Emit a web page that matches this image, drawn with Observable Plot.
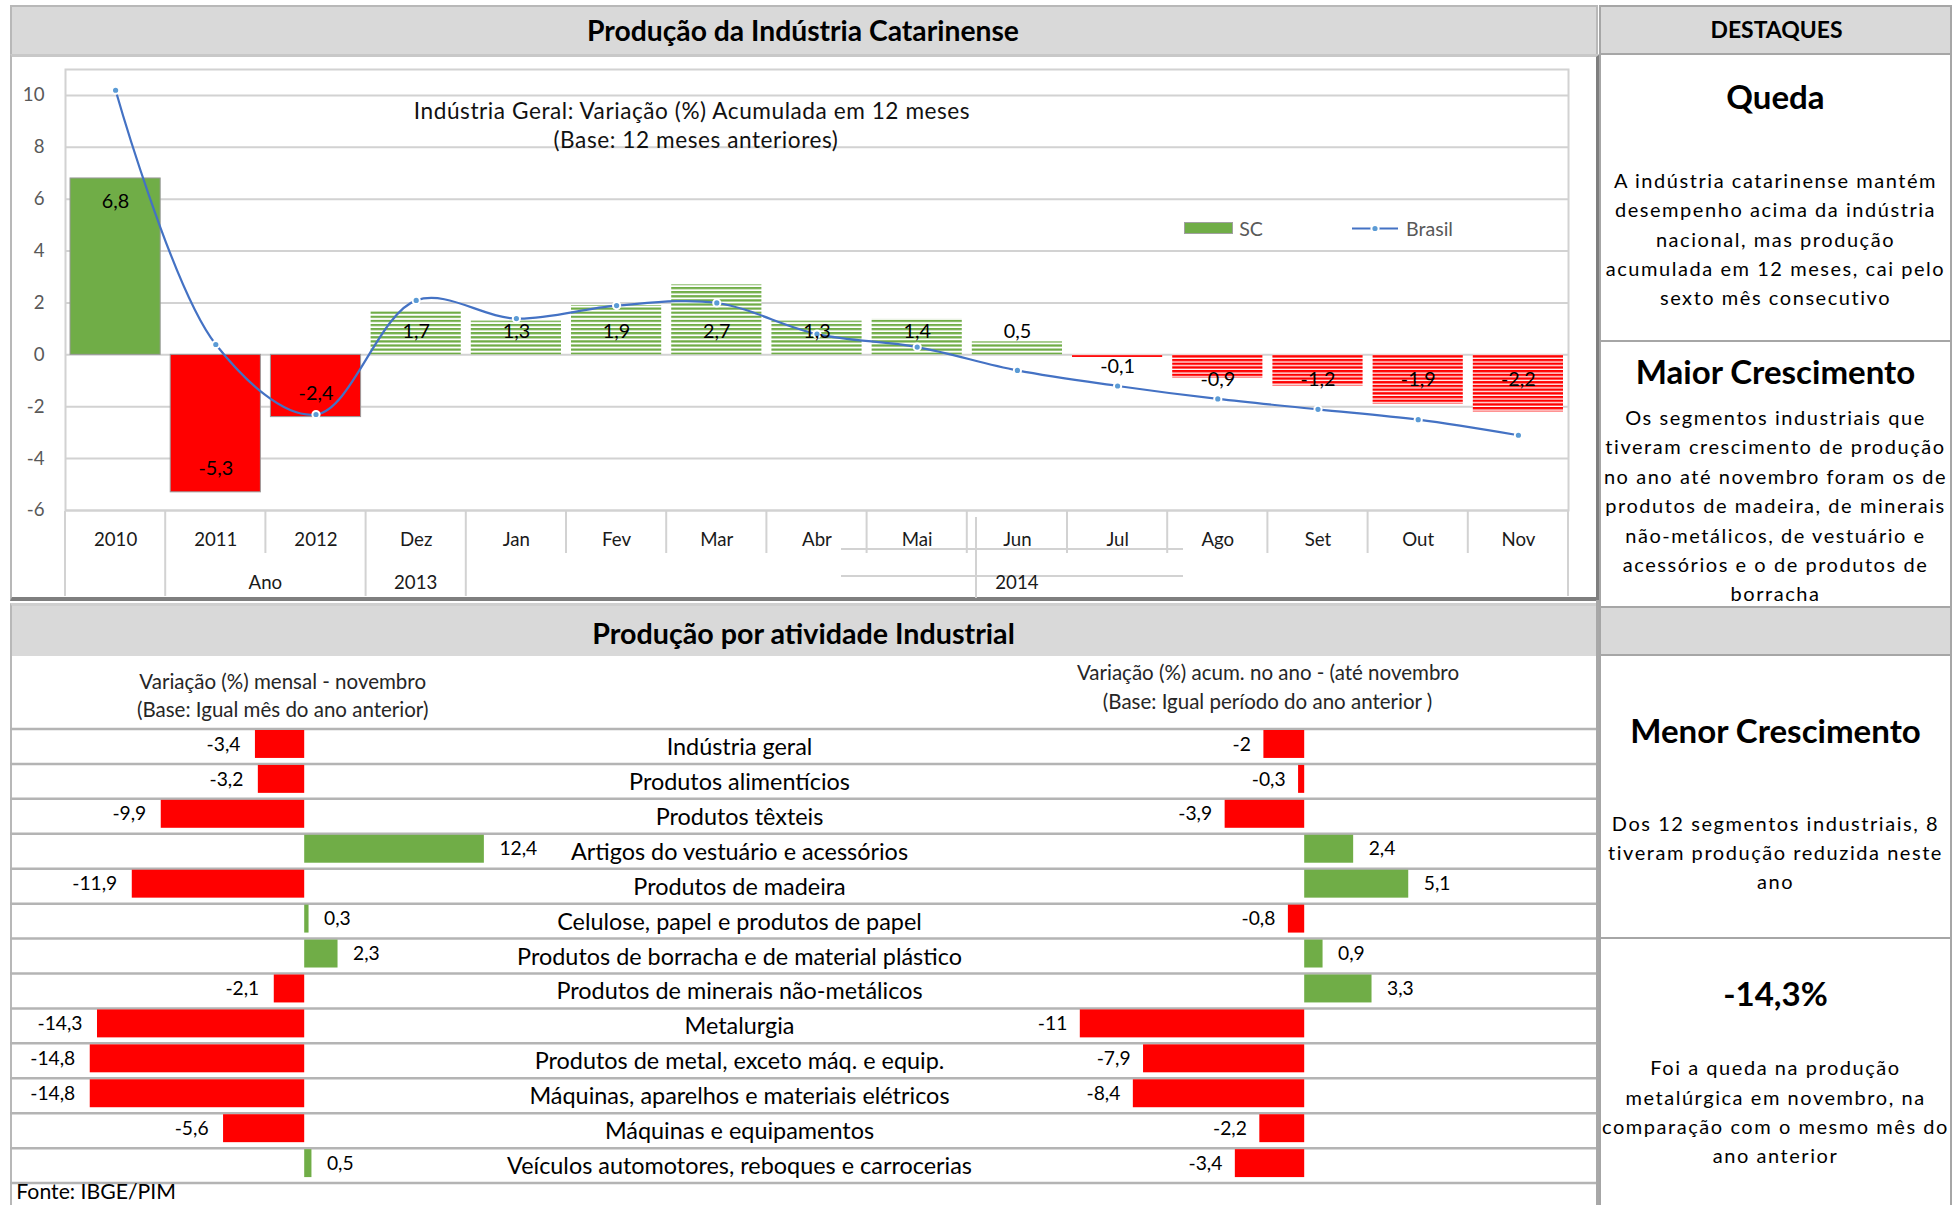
<!DOCTYPE html>
<html lang="pt-BR">
<head>
<meta charset="utf-8">
<script src="https://cdn.jsdelivr.net/npm/d3@7"></script>
<script src="https://cdn.jsdelivr.net/npm/@observablehq/plot@0.6"></script>
<style>
html,body{margin:0;padding:0;background:#fff;}
#page{position:relative;width:1955px;height:1205px;overflow:hidden;font-family:Lato,"Open Sans",sans-serif;color:#000;}
.box{position:absolute;box-sizing:border-box;}
.t{position:absolute;white-space:nowrap;transform:translate(-50%,-50%);line-height:1.2;}
#page svg{position:absolute;background:transparent !important;max-width:none !important;}
</style>
</head>
<body>
<div id="page">
  <!-- top-left panel -->
  <div class="box" style="left:10px;top:5px;width:1588px;height:51px;background:#d9d9d9;border:2px solid #b8b8b8;border-bottom:none;"></div>
  <div class="box" style="left:10px;top:54px;width:1590px;height:547px;border-left:2px solid #b8b8b8;border-top:3px solid #c8c8c8;border-right:4px solid #7f7f7f;border-bottom:4px solid #7f7f7f;"></div>
  <!-- bottom-left panel -->
  <div class="box" style="left:10px;top:603px;width:1588px;height:53px;background:#d9d9d9;border-left:2px solid #b8b8b8;border-top:3px solid #cfcfcf;"></div>
  <div class="box" style="left:10px;top:656px;width:2px;height:549px;background:#b8b8b8;"></div>
  <div class="box" style="left:1596px;top:600px;width:3px;height:605px;background:#a8a8a8;"></div>
  <!-- right panel -->
  <div class="box" style="left:1599px;top:5px;width:353px;height:50px;background:#d9d9d9;border:2px solid #a6a6a6;"></div>
  <div class="box" style="left:1599px;top:53px;width:353px;height:289px;border:2px solid #a6a6a6;border-top:none;"></div>
  <div class="box" style="left:1599px;top:340px;width:353px;height:268px;border:2px solid #a6a6a6;border-top:none;"></div>
  <div class="box" style="left:1599px;top:606px;width:353px;height:50px;background:#d9d9d9;border:2px solid #a6a6a6;"></div>
  <div class="box" style="left:1599px;top:654px;width:353px;height:285px;border:2px solid #a6a6a6;border-top:none;"></div>
  <div class="box" style="left:1599px;top:937px;width:353px;height:280px;border:2px solid #a6a6a6;border-top:none;"></div>
</div>
<script>
// ---------------- DATA ----------------
const cats = ["2010","2011","2012","Dez","Jan","Fev","Mar","Abr","Mai","Jun","Jul","Ago","Set","Out","Nov"];
const annualCats = ["2010","2011","2012"];
const scValues = [6.8,-5.3,-2.4,1.7,1.3,1.9,2.7,1.3,1.4,0.5,-0.1,-0.9,-1.2,-1.9,-2.2];
const brasilValues = [10.2,0.4,-2.3,2.1,1.4,1.9,2.0,0.8,0.3,-0.6,-1.2,-1.7,-2.1,-2.5,-3.1];
const yTicks = [-6,-4,-2,0,2,4,6,8,10];
const axisGroups = [
  {label:"Ano", first:"2011", last:"2012"},
  {label:"2013", first:"Dez", last:"Dez"},
  {label:"2014", first:"Jan", last:"Nov"}
];

const sectors = [
  "Indústria geral",
  "Produtos alimentícios",
  "Produtos têxteis",
  "Artigos do vestuário e acessórios",
  "Produtos de madeira",
  "Celulose, papel e produtos de papel",
  "Produtos de borracha e de material plástico",
  "Produtos de minerais não-metálicos",
  "Metalurgia",
  "Produtos de metal, exceto máq. e equip.",
  "Máquinas, aparelhos e materiais elétricos",
  "Máquinas e equipamentos",
  "Veículos automotores, reboques e carrocerias"
];
const monthlyValues = [-3.4,-3.2,-9.9,12.4,-11.9,0.3,2.3,-2.1,-14.3,-14.8,-14.8,-5.6,0.5];
const ytdValues = [-2,-0.3,-3.9,2.4,5.1,-0.8,0.9,3.3,-11,-7.9,-8.4,-2.2,-3.4];

const GREEN = "#70ad47", RED = "#ff0000";

// ---------------- helpers ----------------
const page = document.getElementById("page");
const ctx = document.createElement("canvas").getContext("2d");
function textW(text, size, weight="normal", family="Lato") {
  ctx.font = `${weight} ${size}px ${family}`;
  return ctx.measureText(text).width;
}
function fitSize(text, width, weight="normal") {
  return 100 * width / textW(text, 100, weight);
}
function addText(str, cx, cy, css={}) {
  const d = document.createElement("div");
  d.className = "t";
  d.textContent = str;
  d.style.left = cx + "px";
  d.style.top = cy + "px";
  Object.assign(d.style, css);
  page.appendChild(d);
  return d;
}
const fmt = v => String(v).replace(".", ",");

const axFont = fitSize("2010", 43.3);
const barFont = fitSize("6,8", 27.5);
const catFont = fitSize("Produtos de borracha e de material plástico", 445);
const valFont = fitSize("-14,8", 45);

// ---------------- TOP CHART ----------------
const scData = cats.map((c, i) => ({cat: c, v: scValues[i], br: brasilValues[i], annual: annualCats.includes(c)}));
const labelY = d => d.annual ? (d.v > 0 ? d.v - 0.9 : d.v + 0.9)
                             : (d.v >= 0.3 ? 0.9 : d.v > -0.5 ? -0.45 : -0.95);

const topPlot = Plot.plot({
  width: 1600, height: 600,
  marginLeft: 65, marginRight: 32, marginTop: 69, marginBottom: 90,
  style: {fontFamily: "Lato, sans-serif", background: "transparent"},
  x: {domain: cats, paddingInner: 0.1, paddingOuter: 0.05, round: false, axis: null},
  y: {domain: [-6, 11], axis: null},
  marks: [
    Plot.ruleY(yTicks, {stroke: "#d2d2d2", strokeWidth: 2}),
    Plot.frame({stroke: "#d2d2d2", strokeWidth: 2}),
    Plot.text(yTicks, {y: d => d, frameAnchor: "left", dx: -21, textAnchor: "end", lineAnchor: "middle", text: d => String(d), fontSize: axFont, fill: "#595959"}),
    Plot.barY(scData.filter(d => d.annual && d.v >= 0), {x: "cat", y: "v", fill: GREEN, stroke: "#9a9a9a", strokeWidth: 1}),
    Plot.barY(scData.filter(d => d.annual && d.v < 0), {x: "cat", y: "v", fill: RED, stroke: "#9a9a9a", strokeWidth: 1}),
    Plot.barY(scData.filter(d => !d.annual && d.v >= 0), {x: "cat", y: "v", fill: "url(#hatchGreen)"}),
    Plot.barY(scData.filter(d => !d.annual && d.v < 0), {x: "cat", y: "v", fill: "url(#hatchRed)"}),
    Plot.line(scData, {x: "cat", y: "br", stroke: "#4472c4", strokeWidth: 2.2, curve: "catmull-rom"}),
    Plot.dot(scData, {x: "cat", y: "br", r: 3.6, fill: "#5b9bd5", stroke: "#fff", strokeWidth: 2}),
    Plot.text(scData, {x: "cat", y: labelY, text: d => fmt(d.v), fontSize: barFont, fill: "#000"}),
    Plot.text(cats, {x: d => d, frameAnchor: "bottom", lineAnchor: "middle", dy: 30, fontSize: axFont, fill: "#1a1a1a"})
  ]
});
topPlot.style.left = "0px";
topPlot.style.top = "0px";
page.appendChild(topPlot);

// patterns for hatched monthly bars
const defs = d3.select(topPlot).insert("defs", ":first-child");
function hatch(id, color, period, stripe) {
  const p = defs.append("pattern").attr("id", id).attr("patternUnits", "userSpaceOnUse")
    .attr("width", 10).attr("height", period);
  p.append("rect").attr("width", 10).attr("height", period).attr("fill", "#fff");
  p.append("rect").attr("width", 10).attr("height", stripe).attr("fill", color);
}
hatch("hatchGreen", GREEN, 4.1, 2.2);
hatch("hatchRed", RED, 3.7, 2.4);

// multi-level category axis: separators + group labels (positions from Plot's x scale)
const xs = topPlot.scale("x");
const gap = xs.step - xs.bandwidth;
const boundary = c => xs.apply(c) - gap / 2;
const center = c => xs.apply(c) + xs.bandwidth / 2;
const groupStarts = new Set(axisGroups.map(g => g.first));
const deco = d3.select(topPlot).append("g").attr("stroke", "#d2d2d2").attr("stroke-width", 2);
cats.forEach((c, i) => {
  const long = i === 0 || groupStarts.has(c);
  deco.append("line").attr("x1", boundary(c)).attr("x2", boundary(c)).attr("y1", 511).attr("y2", long ? 596 : 553);
});
const xEnd = boundary(cats[cats.length - 1]) + xs.step;
deco.append("line").attr("x1", xEnd).attr("x2", xEnd).attr("y1", 511).attr("y2", 596);
// Excel rendering leftovers in the 2014 group
deco.append("line").attr("x1", 841).attr("x2", 1183).attr("y1", 549).attr("y2", 549);
deco.append("line").attr("x1", 841).attr("x2", 1183).attr("y1", 576).attr("y2", 576);
deco.append("line").attr("x1", 976).attr("x2", 976).attr("y1", 517).attr("y2", 598);
d3.select(topPlot).append("g").selectAll("text").data(axisGroups).join("text")
  .attr("x", g => (center(g.first) + center(g.last)) / 2)
  .attr("y", 582).attr("dy", "0.35em").attr("text-anchor", "middle")
  .attr("font-size", axFont).attr("font-family", "Lato").attr("fill", "#1a1a1a")
  .text(g => g.label);

// ---------------- BOTTOM CHARTS ----------------
const secData = sectors.map((s, i) => ({name: s, m: monthlyValues[i], a: ytdValues[i]}));
const rowTop = 28.5, rowH = 34.93;
const bottomH = 505;
const yOpts = {domain: sectors, padding: 0, round: false, axis: null};
const mB = bottomH - rowTop - rowH * sectors.length;

// left: monthly variation + category labels + row rules
const leftW = 1586, leftZero = 294.2, leftK = 14.49;
const leftPlot = Plot.plot({
  width: leftW, height: bottomH,
  marginLeft: 0, marginRight: 0, marginTop: rowTop, marginBottom: mB,
  style: {fontFamily: "Lato, sans-serif", background: "transparent"},
  x: {domain: [-leftZero / leftK, (leftW - leftZero) / leftK], axis: null},
  y: yOpts,
  marks: [
    Plot.ruleY([sectors[0]], {y: d => d, dy: -rowH / 2, stroke: "#b4b4b4", strokeWidth: 2.5}),
    Plot.ruleY(sectors, {y: d => d, dy: rowH / 2, stroke: "#b4b4b4", strokeWidth: 2.5}),
    Plot.barX(secData.filter(d => d.m < 0), {y: "name", x: "m", fill: RED, insetTop: 1.5, insetBottom: 5.5}),
    Plot.barX(secData.filter(d => d.m >= 0), {y: "name", x: "m", fill: GREEN, insetTop: 1.5, insetBottom: 5.5}),
    Plot.text(secData.filter(d => d.m < 0), {y: "name", x: "m", text: d => fmt(d.m), textAnchor: "end", dx: -15, dy: -2, fontSize: valFont, fill: "#000"}),
    Plot.text(secData.filter(d => d.m >= 0), {y: "name", x: "m", text: d => fmt(d.m), textAnchor: "start", dx: 15, dy: -2, fontSize: valFont, fill: "#000"}),
    Plot.text(sectors, {y: d => d, frameAnchor: "left", textAnchor: "middle", lineAnchor: "middle", dx: 729, dy: 1, fontSize: catFont, fill: "#000"})
  ]
});
leftPlot.style.left = "10px";
leftPlot.style.top = "700px";
page.appendChild(leftPlot);

// right: accumulated in the year
const rightW = 606, rightZero = 314.2, rightK = 20.4;
const rightPlot = Plot.plot({
  width: rightW, height: bottomH,
  marginLeft: 0, marginRight: 0, marginTop: rowTop, marginBottom: mB,
  style: {fontFamily: "Lato, sans-serif", background: "transparent"},
  x: {domain: [-rightZero / rightK, (rightW - rightZero) / rightK], axis: null},
  y: yOpts,
  marks: [
    Plot.barX(secData.filter(d => d.a < 0), {y: "name", x: "a", fill: RED, insetTop: 1.5, insetBottom: 5.5}),
    Plot.barX(secData.filter(d => d.a >= 0), {y: "name", x: "a", fill: GREEN, insetTop: 1.5, insetBottom: 5.5}),
    Plot.text(secData.filter(d => d.a < 0), {y: "name", x: "a", text: d => fmt(d.a), textAnchor: "end", dx: -13, dy: -2, fontSize: valFont, fill: "#000"}),
    Plot.text(secData.filter(d => d.a >= 0), {y: "name", x: "a", text: d => fmt(d.a), textAnchor: "start", dx: 15, dy: -2, fontSize: valFont, fill: "#000"})
  ]
});
rightPlot.style.left = "990px";
rightPlot.style.top = "700px";
page.appendChild(rightPlot);

// ---------------- TEXT OVERLAYS ----------------
const bold = (s, w) => ({fontWeight: "bold", fontSize: fitSize(s, w, "bold") + "px"});
const reg = (s, w) => ({fontSize: fitSize(s, w) + "px"});

let s = "Produção da Indústria Catarinense"; addText(s, 803, 31, bold(s, 432));
s = "Produção por atividade Industrial"; addText(s, 803.5, 633, bold(s, 423.5));
s = "DESTAQUES"; addText(s, 1776.5, 29.5, bold(s, 132));

// top chart title
const t1 = "Indústria Geral: Variação (%) Acumulada em 12 meses";
const t1Size = fitSize(t1, 530);
const t1Sp = (558 - textW(t1, t1Size)) / t1.length;
addText(t1, 692, 111, {fontSize: t1Size + "px", letterSpacing: t1Sp + "px", color: "#111"});
addText("(Base: 12 meses anteriores)", 696, 139.5, {fontSize: t1Size + "px", letterSpacing: t1Sp + "px", color: "#111"});

// legend
const lg = document.createElement("div");
lg.className = "box";
Object.assign(lg.style, {left: "1184px", top: "222px", width: "49px", height: "12px", background: GREEN, border: "1px solid #a0a0a0"});
page.appendChild(lg);
const legFont = fitSize("Brasil", 47);
addText("SC", 1251, 228.5, {fontSize: legFont + "px", color: "#595959"});
addText("Brasil", 1429.5, 228.5, {fontSize: legFont + "px", color: "#595959"});
const ll = d3.select(page).append("svg").style("left", "1350px").style("top", "220px").attr("width", 50).attr("height", 18);
ll.append("line").attr("x1", 2).attr("x2", 48).attr("y1", 8.5).attr("y2", 8.5).attr("stroke", "#4472c4").attr("stroke-width", 2.2);
ll.append("circle").attr("cx", 25).attr("cy", 8.5).attr("r", 3.6).attr("fill", "#5b9bd5").attr("stroke", "#fff").attr("stroke-width", 2);

// bottom headers
s = "Variação (%) mensal - novembro";
const hSize = fitSize(s, 286.7);
addText(s, 282.7, 681, {fontSize: hSize + "px", color: "#262626"});
addText("(Base: Igual mês do ano anterior)", 282.7, 709, {fontSize: hSize + "px", color: "#262626"});
addText("Variação (%) acum. no ano - (até novembro", 1268, 672, {fontSize: hSize + "px", color: "#262626"});
addText("(Base: Igual período do ano anterior )", 1267.6, 701, {fontSize: hSize + "px", color: "#262626"});
s = "Fonte: IBGE/PIM";
addText(s, 16.3 + 159.7 / 2, 1192, reg(s, 159.7));

// right panel
const pSize = 20;
const pRef = "acumulada em 12 meses, cai pelo";
const pSp = (339.5 - textW(pRef, pSize)) / pRef.length;
const pStyle = {fontSize: pSize + "px", letterSpacing: pSp + "px"};
const cx = 1775.5;
const headSize = fitSize("Maior Crescimento", 280.3, "bold");
const hStyle = {fontWeight: "bold", fontSize: headSize + "px"};
addText("Queda", cx, 96.8, hStyle);
["A indústria catarinense mantém", "desempenho acima da indústria", "nacional, mas produção", "acumulada em 12 meses, cai pelo", "sexto mês consecutivo"]
  .forEach((l, i) => addText(l, cx, 179.8 + i * 29.4, pStyle));
addText("Maior Crescimento", cx, 371.5, hStyle);
["Os segmentos industriais que", "tiveram  crescimento de produção", "no ano até novembro foram os de", "produtos de madeira, de minerais", "não-metálicos, de vestuário e", "acessórios e o de produtos de", "borracha"]
  .forEach((l, i) => addText(l, cx, 417 + i * 29.4, pStyle));
addText("Menor Crescimento", cx, 731.3, hStyle);
["Dos 12 segmentos industriais,  8", "tiveram produção reduzida neste", "ano"]
  .forEach((l, i) => addText(l, cx, 823.2 + i * 29.0, pStyle));
addText("-14,3%", cx, 993.8, hStyle);
["Foi a queda na produção", "metalúrgica em novembro, na", "comparação com o mesmo mês do", "ano anterior"]
  .forEach((l, i) => addText(l, cx, 1067.2 + i * 29.3, pStyle));
</script>
</body>
</html>
